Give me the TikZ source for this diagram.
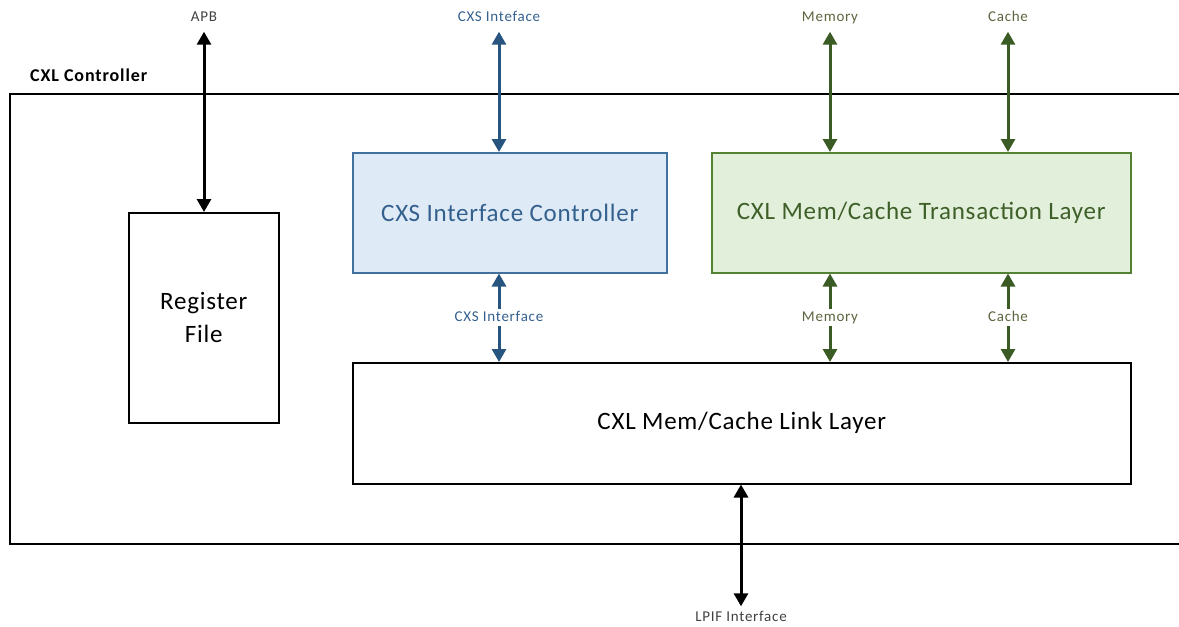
\documentclass[tikz,border=0pt]{standalone}
\usepackage{fontspec}
\setmainfont{Carlito}
\usepackage{tikz}
\usetikzlibrary{positioning, arrows.meta}
\definecolor{cxsblue}{RGB}{40, 84, 128}
\definecolor{cxstext}{RGB}{52, 96, 142}
\definecolor{cxsfill}{RGB}{222, 234, 246}
\definecolor{cxsedge}{RGB}{65, 113, 156}
\definecolor{memgreen}{RGB}{58, 92, 36}
\definecolor{memtext}{RGB}{62, 96, 40}
\definecolor{memlabel}{RGB}{92, 102, 64}
\definecolor{memfill}{RGB}{226, 239, 218}
\definecolor{memedge}{RGB}{84, 130, 53}
\newcommand{\blockfont}{\fontsize{25}{33}\selectfont\addfontfeature{LetterSpace=3}}
\newcommand{\sigfont}{\fontsize{15}{17}\selectfont\addfontfeature{LetterSpace=5}}

\begin{document}
\begin{tikzpicture}[x=1pt, y=-1pt,
    block/.style={draw, line width=1.5pt, inner sep=0pt, anchor=north west, align=center,
        font=\blockfont},
    sig/.style={font=\sigfont, inner sep=1pt, text height=10pt, text depth=3pt},
    midsig/.style={sig, fill=white, inner sep=2pt},
    bus/.style={{Triangle[width=14pt,length=13pt]}-{Triangle[width=14pt,length=13pt]}, line width=3pt}
]
    \useasboundingbox (0,0) rectangle (1179,627);

    % outer controller frame runs past the right edge
    \node[draw, line width=1.8pt, anchor=north west, minimum width=1220, minimum height=450,
        inner sep=0pt] (ctrl) at (9,93) {};
    \node[anchor=west, font=\fontsize{18}{20}\selectfont\bfseries\addfontfeature{LetterSpace=5}, inner sep=0pt]
        (ctrltitle) at (30,75) {CXL Controller};

    \node[block, minimum width=150, minimum height=210] (regfile) at (128,212) {Register\\File};
    \node[block, draw=cxsedge, fill=cxsfill, text=cxstext, minimum width=314, minimum height=120]
        (cxsctrl) at (352,152) {CXS Interface Controller};
    \node[block, draw=memedge, fill=memfill, text=memtext, minimum width=419, minimum height=120]
        (txlayer) at (711,152) {CXL Mem/Cache Transaction Layer};
    \node[block, minimum width=778, minimum height=121] (linklayer) at (352,362) {CXL Mem/Cache Link Layer};

    % outside signal labels
    \node[sig, text=black!75] (apb) at (204,18) {APB};
    \node[sig, text=cxstext] (cxstop) at (499,18) {CXS Inteface};
    \node[sig, text=memlabel] (memtop) at (830,18) {Memory};
    \node[sig, text=memlabel] (cachetop) at (1008,18) {Cache};
    \node[sig, text=black!75] (lpif) at (741,618) {LPIF Interface};

    \draw[bus] ([yshift=-6pt]apb.south) -- (regfile.north -| apb);
    \draw[bus, cxsblue] ([yshift=-6pt]cxstop.south) -- (cxsctrl.north -| cxstop);
    \foreach \t in {memtop, cachetop}
    {
        \draw[bus, memgreen] ([yshift=-6pt]\t.south) -- (txlayer.north -| \t);
    }
    \draw[bus] (linklayer.south -| lpif) -- ([yshift=4pt]lpif.north);

    % between the layers
    \draw[bus, cxsblue] (cxsctrl.south -| cxstop) -- node[midsig, text=cxstext] (cxsmid) {CXS Interface} (linklayer.north -| cxstop);
    \draw[bus, memgreen] (txlayer.south -| memtop) -- node[midsig, text=memlabel] (memmid) {Memory} (linklayer.north -| memtop);
    \draw[bus, memgreen] (txlayer.south -| cachetop) -- node[midsig, text=memlabel] (cachemid) {Cache} (linklayer.north -| cachetop);
\end{tikzpicture}
\end{document}
